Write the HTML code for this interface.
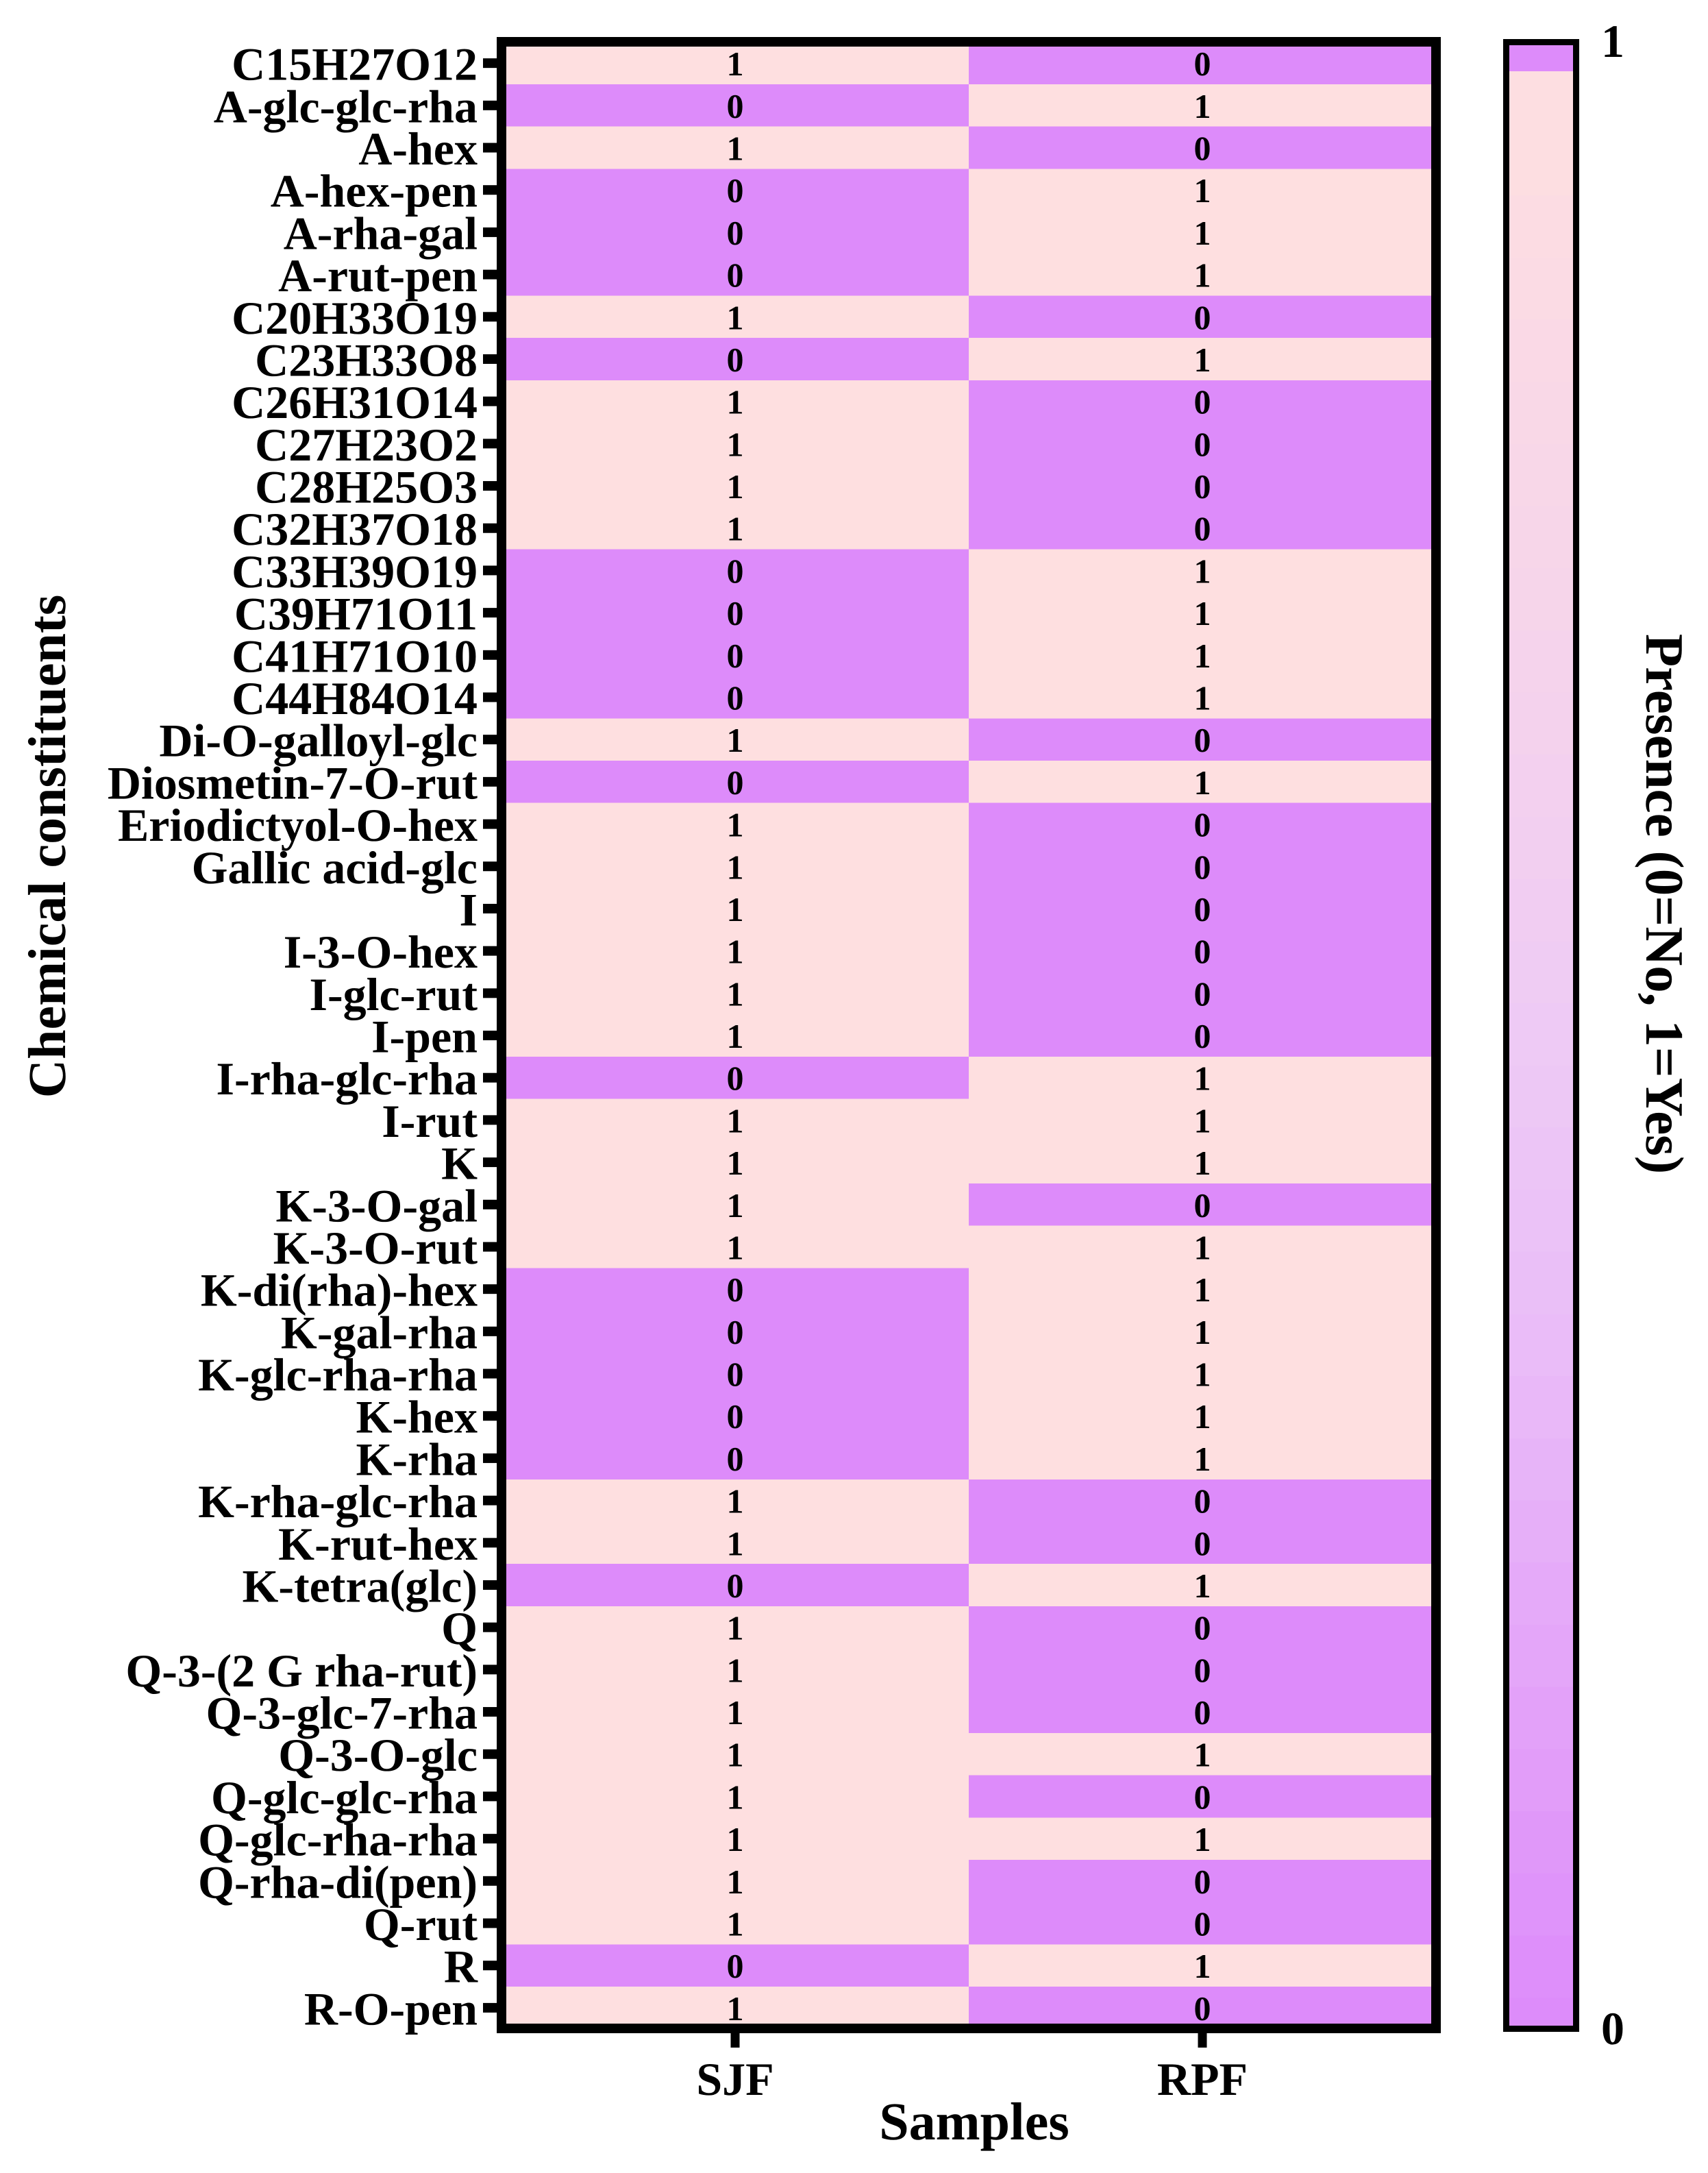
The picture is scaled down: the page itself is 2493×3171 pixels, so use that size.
<!DOCTYPE html>
<html lang="en">
<head>
<meta charset="utf-8">
<title>Presence heatmap of chemical constituents</title>
<style>
  html, body { margin: 0; padding: 0; background: #ffffff; }
  svg { display: block; }
  text { font-family: "Liberation Serif", "Times New Roman", serif; font-weight: bold; fill: #000; text-rendering: geometricPrecision; }
</style>
</head>
<body>
<svg id="chart" xmlns="http://www.w3.org/2000/svg" width="2493" height="3171" viewBox="0 0 2493 3171">
  <rect x="0" y="0" width="2493" height="3171" fill="#ffffff"/>
  <g id="cells"></g>
  <g id="cell-labels"></g>
  <g id="y-axis"></g>
  <g id="x-axis"></g>
  <rect x="732" y="61" width="1364" height="2899" fill="none" stroke="#000" stroke-width="14"/>
  <text transform="translate(95 1235) rotate(-90)" text-anchor="middle" font-size="78">Chemical constituents</text>
  <text x="1422" y="3122" text-anchor="middle" font-size="78">Samples</text>
  <g id="colorbar"></g>
  <rect x="2198.5" y="61.5" width="102" height="2899" fill="none" stroke="#000" stroke-width="9"/>
  <g id="colorbar-ticks"></g>
  <text transform="translate(2403 1319) rotate(90)" text-anchor="middle" font-size="79">Presence (0=No, 1=Yes)</text>
</svg>
<script>
const constituents = ["C15H27O12","A-glc-glc-rha","A-hex","A-hex-pen","A-rha-gal","A-rut-pen","C20H33O19","C23H33O8","C26H31O14","C27H23O2","C28H25O3","C32H37O18","C33H39O19","C39H71O11","C41H71O10","C44H84O14","Di-O-galloyl-glc","Diosmetin-7-O-rut","Eriodictyol-O-hex","Gallic acid-glc","I","I-3-O-hex","I-glc-rut","I-pen","I-rha-glc-rha","I-rut","K","K-3-O-gal","K-3-O-rut","K-di(rha)-hex","K-gal-rha","K-glc-rha-rha","K-hex","K-rha","K-rha-glc-rha","K-rut-hex","K-tetra(glc)","Q","Q-3-(2 G rha-rut)","Q-3-glc-7-rha","Q-3-O-glc","Q-glc-glc-rha","Q-glc-rha-rha","Q-rha-di(pen)","Q-rut","R","R-O-pen"];
const samples = ["SJF","RPF"];
const presenceSJF = [1,0,1,0,0,0,1,0,1,1,1,1,0,0,0,0,1,0,1,1,1,1,1,1,0,1,1,1,1,0,0,0,0,0,1,1,0,1,1,1,1,1,1,1,1,0,1];
const presenceRPF = [0,1,0,1,1,1,0,1,0,0,0,0,1,1,1,1,0,1,0,0,0,0,0,0,1,1,1,0,1,1,1,1,1,1,0,0,1,0,0,0,1,0,1,0,0,1,0];
const colorbarTicks = [0,1];
const scaleColors = ["#DD8BFA","#E9BAF8","#EECAF5","#F5D3EC","#FEDFE0"];
const NS = "http://www.w3.org/2000/svg";
const plot = { left: 732, right: 2096, top: 61.3, rowH: 61.69 };
const bar = { left: 2203, right: 2296, top: 104, bottom: 2956, innerTop: 66, firstEdge: 285, bandH: 90.69 };

function xBand() { return (plot.right - plot.left) / samples.length; }
function xScale(col) { return plot.left + xBand() * col; }
function yScale(row) { return plot.top + plot.rowH * row; }
function hex2rgb(h) { return [1, 3, 5].map(function (i) { return parseInt(h.substr(i, 2), 16); }); }
function colorOf(v) {
  // v is 0 (absent) .. 1 (present); stops run from the purple end to the pink end
  const t = Math.max(0, Math.min(1, v));
  const pos = [0, 0.33, 0.5, 0.69, 1];
  let i = 0;
  while (i < pos.length - 2 && t > pos[i + 1]) i++;
  const f = (t - pos[i]) / (pos[i + 1] - pos[i]);
  const a = hex2rgb(scaleColors[i]);
  const b = hex2rgb(scaleColors[i + 1]);
  return "rgb(" + a.map(function (c, k) { return Math.round(c + (b[k] - c) * f); }).join(",") + ")";
}
function make(tag, attrs) {
  const el = document.createElementNS(NS, tag);
  Object.keys(attrs).forEach(function (k) { el.setAttribute(k, attrs[k]); });
  return el;
}

const cellsG = document.getElementById("cells");
const labelsG = document.getElementById("cell-labels");
const yAxisG = document.getElementById("y-axis");
const xAxisG = document.getElementById("x-axis");
const series = [presenceSJF, presenceRPF];

constituents.forEach(function (name, r) {
  const cy = yScale(r) + plot.rowH / 2;
  series.forEach(function (vals, c) {
    const v = vals[r];
    const rect = make("rect", { x: xScale(c), y: yScale(r), width: xBand(), height: plot.rowH + 0.4, fill: colorOf(v), "shape-rendering": "crispEdges" });
    
    
    cellsG.appendChild(rect);
    const t = make("text", { x: xScale(c) + xBand() / 2, y: cy + 18, "text-anchor": "middle", "font-size": 50 });
    
    
    t.textContent = String(v);
    labelsG.appendChild(t);
  });
  const tick = make("rect", { x: 705, y: cy - 7, width: 21, height: 14, fill: "#000" });
  
  
  yAxisG.appendChild(tick);
  const lab = make("text", { x: 697, y: cy + 24.5, "text-anchor": "end", "font-size": 68 });
  
  
  lab.textContent = name;
  yAxisG.appendChild(lab);
});

samples.forEach(function (s, c) {
  const cx = xScale(c) + xBand() / 2;
  const tick = make("rect", { x: cx - 6.5, y: 2966, width: 13, height: 22, fill: "#000" });
  
  
  xAxisG.appendChild(tick);
  const lab = make("text", { x: cx, y: 3057, "text-anchor": "middle", "font-size": 68 });
  
  
  lab.textContent = s;
  xAxisG.appendChild(lab);
});

const barG = document.getElementById("colorbar");
const overflow = make("rect", { x: bar.left, y: bar.innerTop, width: bar.right - bar.left, height: bar.top - bar.innerTop, fill: colorOf(0), "shape-rendering": "crispEdges" });


barG.appendChild(overflow);

const edges = [bar.top, bar.firstEdge];
while (edges[edges.length - 1] + bar.bandH < bar.bottom) { edges.push(edges[edges.length - 1] + bar.bandH); }
edges.push(bar.bottom);
edges.slice(0, -1).forEach(function (y0, i) {
  const y1 = edges[i + 1];
  const v = 1 - ((y0 + y1) / 2 - bar.top) / (bar.bottom - bar.top);
  const band = make("rect", { x: bar.left, y: y0, width: bar.right - bar.left, height: y1 - y0 + 0.5, fill: colorOf(v), "shape-rendering": "crispEdges" });
  
  
  barG.appendChild(band);
});

const ticksG = document.getElementById("colorbar-ticks");
colorbarTicks.forEach(function (v) {
  const t = make("text", { x: 2354, y: v === 1 ? 83 : 2983, "text-anchor": "middle", "font-size": 68 });
  
  
  t.textContent = String(v);
  ticksG.appendChild(t);
});
</script>
</body>
</html>
